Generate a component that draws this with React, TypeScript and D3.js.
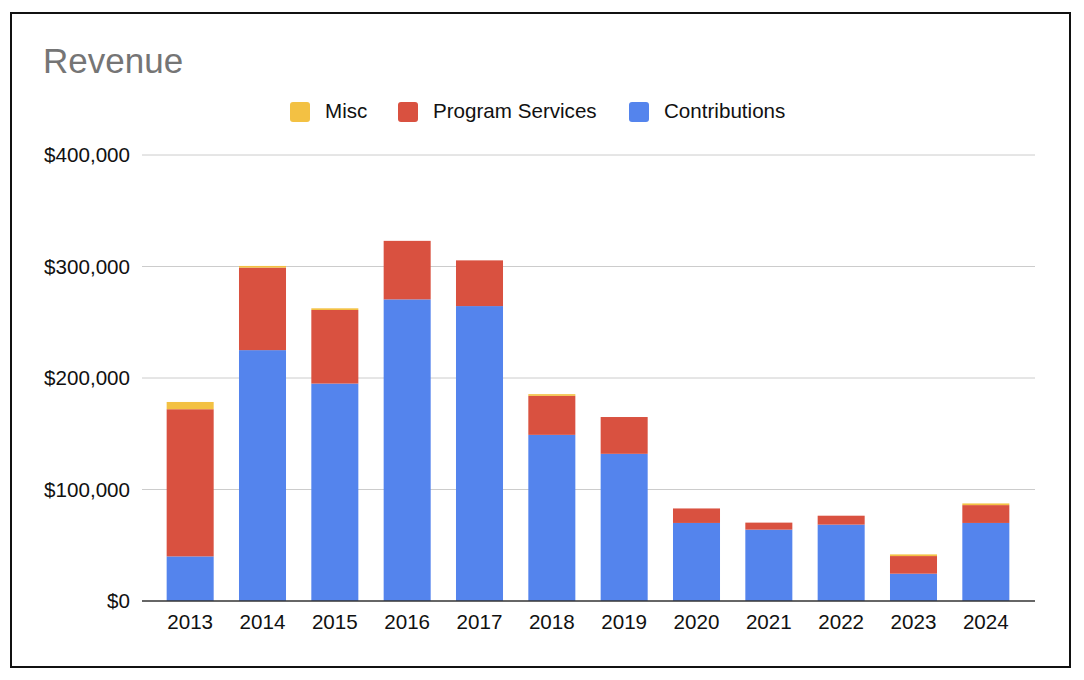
import { scaleBand, scaleLinear, stack } from "d3";
import React from "react";

const years = ["2013", "2014", "2015", "2016", "2017", "2018", "2019", "2020", "2021", "2022", "2023", "2024"];
const contributions = [40000, 225000, 195000, 270500, 264500, 149000, 132000, 70000, 64000, 68500, 24500, 70000];
const programServices = [132000, 74000, 66000, 52500, 41000, 35000, 33000, 13000, 6300, 8000, 15800, 16000];
const misc = [6500, 1500, 1500, 0, 0, 1500, 0, 0, 0, 0, 1500, 1500];
const yTicks = [0, 100000, 200000, 300000, 400000];

const seriesKeys = ["contributions", "programServices", "misc"] as const;
const colors: Record<string, string> = {
  contributions: "#5484ed",
  programServices: "#d95140",
  misc: "#f3c143",
};
const legend = [
  { key: "misc", label: "Misc", x: 290 },
  { key: "programServices", label: "Program Services", x: 398 },
  { key: "contributions", label: "Contributions", x: 629 },
];

const rows = years.map((year, i) => ({
  year,
  contributions: contributions[i],
  programServices: programServices[i],
  misc: misc[i],
}));

const font = "Arial, 'Liberation Sans', Helvetica, sans-serif";

const App: React.FC = () => {
  const width = 1084;
  const height = 680;
  const plotLeft = 142;
  const plotRight = 1035;

  const x = scaleBand<string>().domain(years).range([154, 1022]).paddingInner(0.35).paddingOuter(0.175);
  const y = scaleLinear().domain([0, 400000]).range([601, 155]);

  const layers = stack<(typeof rows)[number]>().keys(seriesKeys as unknown as string[])(rows);

  const fmt = (v: number) => "$" + v.toLocaleString("en-US");

  return (
    <svg
      width={width}
      height={height}
      style={{ position: "absolute", left: 0, top: 0, fontFamily: font }}
    >
      <rect x={0} y={0} width={width} height={height} fill="#fff" />
      <rect x={11} y={13} width={1059} height={654} fill="#fff" stroke="#111" strokeWidth={2} />
      <text x={43} y={73} fontSize={35} fill="#757575">
        Revenue
      </text>
      {legend.map((l) => (
        <g key={l.key}>
          <rect x={l.x} y={102} width={20} height={20} rx={3} fill={colors[l.key]} />
          <text x={l.x + 35} y={118} fontSize={20.6} fill="#111">
            {l.label}
          </text>
        </g>
      ))}
      {yTicks.map((t) => (
        <g key={t}>
          {t > 0 && (
            <line x1={plotLeft} x2={plotRight} y1={y(t)} y2={y(t)} stroke="#cccccc" strokeWidth={1} />
          )}
          <text x={130} y={y(t)} dy="0.35em" textAnchor="end" fontSize={20.6} fill="#111">
            {fmt(t)}
          </text>
        </g>
      ))}
      {layers.map((layer) => (
        <g key={layer.key} fill={colors[layer.key]}>
          {layer.map((d, i) =>
            d[1] - d[0] > 0 ? (
              <rect
                key={years[i]}
                x={x(years[i])}
                y={y(d[1])}
                width={x.bandwidth()}
                height={y(d[0]) - y(d[1])}
              />
            ) : null,
          )}
        </g>
      ))}
      <line x1={plotLeft} x2={plotRight} y1={y(0)} y2={y(0)} stroke="#333" strokeWidth={1.5} />
      {years.map((yr) => (
        <text
          key={yr}
          x={(x(yr) ?? 0) + x.bandwidth() / 2}
          y={629}
          textAnchor="middle"
          fontSize={20.6}
          fill="#111"
        >
          {yr}
        </text>
      ))}
    </svg>
  );
};

export default App;
